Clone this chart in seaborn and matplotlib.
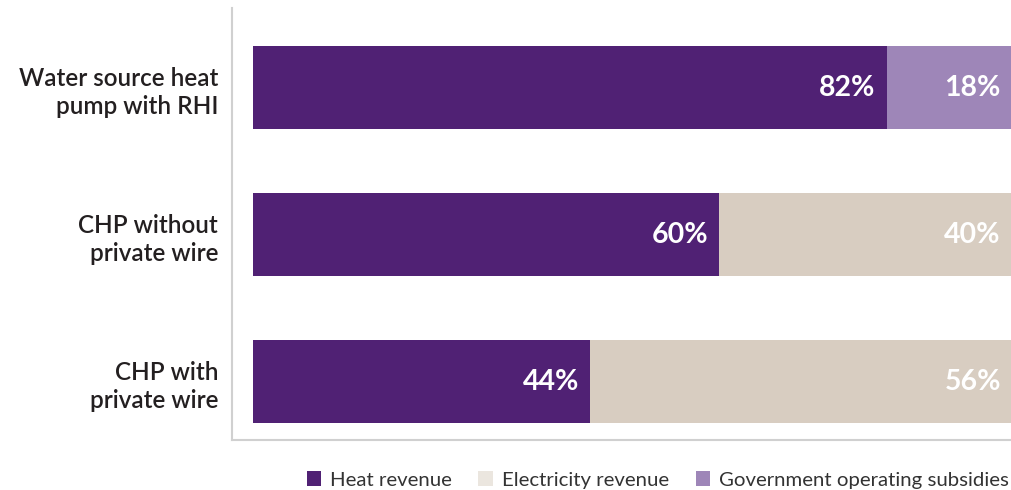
import numpy as np
import pandas as pd
import matplotlib
matplotlib.use("Agg")
import matplotlib.pyplot as plt
from matplotlib.patches import Patch
import seaborn as sns

categories = ["Water source heat\npump with RHI", "CHP without\nprivate wire", "CHP with\nprivate wire"]
# segment lengths as drawn in the picture
heat = [83.5, 61.4, 44.4]
electricity = [0, 38.6, 55.6]
subsidies = [16.5, 0, 0]
# printed labels
heat_labels = ["82%", "60%", "44%"]
elec_labels = ["", "40%", "56%"]
subs_labels = ["18%", "", ""]

series_names = ["Heat revenue", "Electricity revenue", "Government operating subsidies"]
col_heat = "#502174"
col_elec = "#d8cdc1"
col_elec_legend = "#ebe6df"
col_subs = "#9e86b8"

df = pd.DataFrame({"cat": categories, "heat": heat, "elec": electricity, "subs": subsidies})
df["c1"] = df["heat"]
df["c2"] = df["heat"] + df["elec"]
df["c3"] = df["c2"] + df["subs"]

sns.set_style("white")
plt.rcParams["font.family"] = ["Lato", "DejaVu Sans"]

fig = plt.figure(figsize=(10.12, 4.9), dpi=100)
ax = fig.add_axes([232 / 1012, 50 / 490, 1 - 232 / 1012, 432 / 490])

bw = 0.565
sns.barplot(data=df, x="c3", y="cat", orient="h", color=col_subs, saturation=1, width=bw, linewidth=0, ax=ax)
sns.barplot(data=df, x="c2", y="cat", orient="h", color=col_elec, saturation=1, width=bw, linewidth=0, ax=ax)
sns.barplot(data=df, x="c1", y="cat", orient="h", color=col_heat, saturation=1, width=bw, linewidth=0, ax=ax)

# value labels at the right end of each segment
for i, row in df.iterrows():
    for txt, end in [(heat_labels[i], row["c1"]), (elec_labels[i], row["c2"]), (subs_labels[i], row["c3"])]:
        if txt:
            ax.annotate(txt, xy=(end, i), xytext=(-8, 0), textcoords="offset points",
                        ha="right", va="center", color="white", fontsize=20.5, fontweight="bold")

ax.set_xlim(-2.77, 100)
ax.set_ylim(2.395, -0.544)
ax.set_xlabel("")
ax.set_ylabel("")
ax.set_xticks([])
ax.tick_params(axis="y", length=0, pad=10)
for lab in ax.get_yticklabels():
    lab.set_fontsize(17.5)
    lab.set_color("#231f20")
    lab.set_fontweight("semibold")
    lab.set_linespacing(1.25)
    lab.set_ha("right")

for s in ["top", "right"]:
    ax.spines[s].set_visible(False)
for s in ["left", "bottom"]:
    ax.spines[s].set_color("#d0d0d0")
    ax.spines[s].set_linewidth(1.5)

handles = [Patch(color=col_heat, linewidth=0), Patch(color=col_elec_legend, linewidth=0),
           Patch(color=col_subs, linewidth=0)]
fig.legend(handles, series_names, loc="center right", bbox_to_anchor=(1009 / 1012, 1 - 480 / 490),
           ncol=3, frameon=False, fontsize=14.7, handlelength=0.7, handleheight=0.7,
           handletextpad=0.45, columnspacing=1.3, borderaxespad=0, borderpad=0,
           labelcolor="#333333")

fig.savefig("out.png", dpi=100)
